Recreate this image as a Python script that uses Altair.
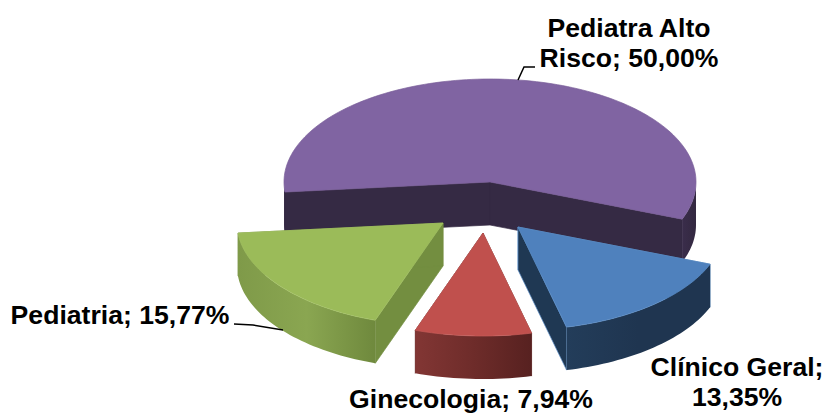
import math
import altair as alt

categories = ["Pediatra Alto Risco", "Clínico Geral", "Ginecologia", "Pediatria"]
values = [50.00, 13.35, 7.94, 15.77]
top_colors = ["#8064a2", "#4f81bd", "#c0504d", "#9bbb59"]
top_edges = ["#7a5f9a", "#5a8cc6", "#c75c59", "#a3c264"]
radial_colors = ["#352a44", "#1f3853", "#5f2422", "#738e40"]
wall_stops = [
    ["#3a2d4b", "#332840"],
    ["#233d5a", "#1f3550", "#1f3550"],
    ["#823634", "#6e2c2a", "#572120"],
    ["#7f9a49", "#8aa651", "#6f893d"],
]
explode = [(0, 0), (28, 45), (-7, 51), (-47, 41)]
label_texts = ["Pediatra Alto\nRisco; 50,00%", "Clínico Geral;\n13,35%", "Ginecologia; 7,94%", "Pediatria; 15,77%"]
label_pos = [(629, 29), (737, 368), (471, 400), (120, 316)]
leaders = [[(535, 67), (524, 67), (518, 80)], [(234, 324), (253, 325), (283, 330)]]

W, H = 816, 406
CX, CY, RX, RY, DEPTH = 482, 174, 206, 103, 43
START = -95.6
FONT = 26.6


def pt(angle, ox, oy, drop=0):
    t = math.radians(angle)
    return [CX + ox + RX * math.sin(t), CY + oy - RY * math.cos(t) + drop]


def arc(a, b, ox, oy, drop=0):
    n = max(2, int(abs(b - a) / 1.5))
    return [pt(a + (b - a) * i / n, ox, oy, drop) for i in range(n + 1)]


def layer(coords, fill, stroke=None, width=0.7):
    feature = {"type": "Feature", "properties": {},
               "geometry": {"type": "Polygon", "coordinates": [coords + [coords[0]]]}}
    kw = {"fill": fill, "strokeWidth": width, "stroke": stroke or "transparent"}
    return alt.Chart(alt.Data(values=[feature])).mark_geoshape(**kw)


def gradient(colors):
    n = len(colors) - 1
    return alt.LinearGradient(
        gradient="linear", x1=0, x2=1, y1=0, y2=0,
        stops=[alt.GradientStop(color=c, offset=i / n) for i, c in enumerate(colors)],
    )


layers = []
total = sum(values)
angle = START
for i, value in enumerate(values):
    a, b = angle, angle + value / total * 360
    angle = b
    ox, oy = explode[i]
    apex = [CX + ox, CY + oy]
    apex_low = [apex[0], apex[1] + DEPTH]
    # straight cut faces
    for edge in (a, b):
        layers.append(layer([apex, pt(edge, ox, oy), pt(edge, ox, oy, DEPTH), apex_low],
                            radial_colors[i], top_edges[i] if i == 1 else radial_colors[i]))
    # curved outer wall, front half of the ellipse only
    for lo, hi in ((90, 270), (-270, -90)):
        s, e = max(a, lo), min(b, hi)
        if e > s:
            layers.append(layer(arc(s, e, ox, oy) + arc(e, s, ox, oy, DEPTH),
                                gradient(wall_stops[i])))
    # top face
    layers.append(layer([apex] + arc(a, b, ox, oy), top_colors[i], top_edges[i]))

for line in leaders:
    feature = {"type": "Feature", "properties": {},
               "geometry": {"type": "LineString", "coordinates": [[p[0] - 8, p[1] - 8] for p in line]}}
    layers.append(alt.Chart(alt.Data(values=[feature])).mark_geoshape(
        filled=False, stroke="black", strokeWidth=1.5))

for text, (x, y) in zip(label_texts, label_pos):
    layers.append(alt.Chart(alt.Data(values=[{"label": text}])).mark_text(
        font="Liberation Sans", fontWeight="bold", fontSize=FONT, color="black",
        align="center", baseline="middle", lineBreak="\n", lineHeight=30,
    ).encode(text="label:N", x=alt.value(x - 8), y=alt.value(y - 8)))

chart = alt.layer(*layers).properties(
    width=W, height=H, padding=0, background="white",
    autosize=alt.AutoSizeParams(type="none"),
    projection=alt.Projection(type="identity", scale=1, translate=[0, 0]),
).configure_view(strokeWidth=0, stroke="transparent")

chart.save("out.html", embed_options={"renderer": "svg", "actions": False})
